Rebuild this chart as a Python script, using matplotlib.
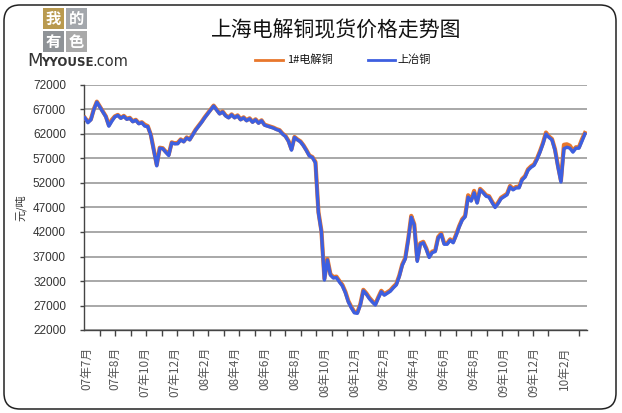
import numpy as np
import matplotlib
matplotlib.use("Agg")
import matplotlib.pyplot as plt
from matplotlib.patches import FancyBboxPatch, Rectangle
from matplotlib.lines import Line2D

plt.rcParams['font.family'] = ['Noto Sans CJK SC', 'DejaVu Sans']

# ---------------- data ----------------
title = "上海电解铜现货价格走势图"
series_names = ["1#电解铜", "上冶铜"]
y_label = "元/吨"
x_labels = ["07年7月", "07年8月", "07年10月", "07年12月", "08年2月", "08年4月",
            "08年6月", "08年8月", "08年10月", "08年12月", "09年2月", "09年4月",
            "09年6月", "09年8月", "09年10月", "09年12月", "10年2月"]
y_ticks = [22000, 27000, 32000, 37000, 42000, 47000, 52000, 57000, 62000, 67000, 72000]

# 上冶铜 (blue), roughly weekly samples
shangye = [65300, 64300, 64900, 67000, 68500, 67500, 66500, 65500, 63600, 64600,
           65500, 65800, 65200, 65600, 65000, 65200, 64500, 64800, 64100, 64300,
           63600, 63500, 61800, 58700, 55500, 59100, 59000, 58300, 57600, 60200,
           60000, 60000, 60800, 60400, 61200, 60800, 61800, 62800, 63600, 64400,
           65300, 66100, 66900, 67700, 66900, 66100, 66500, 65700, 65300, 65900,
           65300, 65700, 64900, 65300, 64700, 65100, 64400, 64900, 64200, 64700,
           63800, 63600, 63400, 63200, 62900, 62700, 62000, 61500, 60500, 58700,
           61300, 60800, 60400, 59600, 58600, 57500, 57200, 56100, 45900, 42000,
           32200, 36300, 33200, 32600, 32700, 31800, 31000, 29600, 27700, 26500,
           25500, 25400, 27100, 30000, 29300, 28400, 27700, 27100, 28500, 29800,
           29100, 29500, 29900, 30600, 31200, 32900, 35200, 36500, 40400, 45000,
           43400, 36000, 39500, 39800, 38500, 36800, 37800, 38000, 40800, 41500,
           39500, 39500, 40300, 39800, 41300, 43000, 44400, 45100, 49100, 48300,
           50000, 47900, 50600, 50000, 49300, 49100, 48000, 47000, 47800, 48800,
           49200, 49600, 51200, 50600, 51000, 51000, 52600, 53200, 54600, 55200,
           55600, 56800, 58300, 60000, 62000, 61300, 60800, 58700, 55300, 52200,
           59000, 59300, 59100, 58300, 59100, 59100, 60500, 62000]

# 1#电解铜 (orange)
dianjie = [65300, 64500, 65000, 67100, 68600, 67600, 66600, 65600, 63800, 64900,
           65600, 65900, 65300, 65700, 65100, 65300, 64600, 64900, 64200, 64400,
           63900, 63600, 61900, 58800, 55700, 59200, 59100, 58400, 57800, 60300,
           60100, 60200, 60900, 60500, 61300, 60900, 61900, 62900, 63700, 64500,
           65400, 66200, 67000, 67800, 67000, 66200, 66600, 65800, 65400, 66000,
           65400, 65800, 65000, 65400, 64800, 65200, 64500, 65000, 64300, 64800,
           63900, 63700, 63500, 63300, 63000, 62800, 62100, 61600, 60600, 58900,
           61400, 60900, 60500, 59700, 58700, 57600, 57300, 56300, 46100, 42200,
           32500, 36500, 33400, 32800, 32900, 32000, 31200, 29800, 27900, 26700,
           25700, 25600, 27300, 30200, 29500, 28600, 27900, 27300, 28700, 30000,
           29300, 29700, 30100, 30800, 31400, 33100, 35400, 36700, 40600, 45300,
           43600, 36300, 39700, 40000, 38700, 37000, 38000, 38200, 41000, 41700,
           39700, 39700, 40500, 40000, 41500, 43200, 44600, 45300, 49500, 48500,
           50400, 48100, 50800, 50200, 49500, 49300, 48200, 47200, 48000, 49000,
           49400, 49800, 51400, 50800, 51200, 51200, 52800, 53400, 54800, 55400,
           55800, 57000, 58500, 60200, 62300, 61500, 61000, 58900, 55500, 52500,
           59800, 59900, 59600, 58600, 59300, 59300, 60900, 62200]

# ---------------- figure ----------------
W, H = 622, 413
fig = plt.figure(figsize=(W / 100, H / 100), dpi=100)
fig.patch.set_facecolor("white")

# rounded border
border = FancyBboxPatch((0.04, 0.04), W / 100 - 0.1, H / 100 - 0.09,
                        boxstyle="round,pad=0,rounding_size=0.16",
                        transform=fig.dpi_scale_trans, fill=False,
                        edgecolor="#222222", linewidth=1.1)
fig.patches.append(border)

ax = fig.add_axes([84 / W, 1 - 330 / H, (587 - 84) / W, (330 - 85) / H])
ax.set_facecolor("white")

x = np.arange(len(shangye))
ax.plot(x, dianjie, color="#e8772c", linewidth=3.0, solid_joinstyle="round", zorder=3)
ax.plot(x, shangye, color="#3d5fe0", linewidth=2.4, solid_joinstyle="round", zorder=4)

ax.set_ylim(22000, 72000)
ax.set_xlim(-0.3, 167.7)
ax.set_yticks(y_ticks)
ax.set_yticklabels([str(v) for v in y_ticks], fontsize=8.5, color="#333333",
                   family=["Liberation Sans", "DejaVu Sans"])
ax.yaxis.grid(True, color="#a8a8a8", linewidth=1.4)
ax.set_axisbelow(True)

label_pos = [0.7] + [10 * i for i in range(1, len(x_labels))]
ax.set_xticks(label_pos)
ax.set_xticklabels(x_labels, rotation=90, fontsize=8.5, color="#555555")
ax.tick_params(axis="x", which="major", length=0, pad=12)
ax.set_xticks(np.arange(1, 33) * 15.5 / 3 - 1 / 6, minor=True)
ax.tick_params(axis="x", which="minor", length=4, width=1, color="#444444", direction="out")
ax.tick_params(axis="y", length=3, width=1, color="#444444", pad=10)

for s in ["top", "right"]:
    ax.spines[s].set_visible(False)
for s in ["left", "bottom"]:
    ax.spines[s].set_color("#444444")
    ax.spines[s].set_linewidth(1.0)

ax.set_ylabel(y_label, fontsize=8, color="#333333", labelpad=6)
ax.yaxis.set_label_coords(-0.115, 0.5)

# title
fig.text(336 / W, 1 - 30 / H, title, ha="center", va="center", fontsize=15, color="#111111")

# legend
ly = 1 - 60 / H
fig.add_artist(Line2D([255 / W, 283 / W], [ly, ly], color="#e8772c", linewidth=2))
fig.text(287 / W, ly, series_names[0], ha="left", va="center", fontsize=8, color="#111111")
fig.add_artist(Line2D([368 / W, 395 / W], [ly, ly], color="#3d5fe0", linewidth=2))
fig.text(397 / W, ly, series_names[1], ha="left", va="center", fontsize=8, color="#111111")

# logo
boxes = [("我", 43, 8, "#b99a4f"), ("的", 66, 8, "#a3a7ac"),
         ("有", 43, 31, "#8f9397"), ("色", 66, 31, "#a9a9a9")]
for ch, bx, by, col in boxes:
    fig.patches.append(Rectangle((bx / W, 1 - (by + 21) / H), 21 / W, 21 / H,
                                 transform=fig.transFigure, facecolor=col, edgecolor="none"))
    fig.text((bx + 10.5) / W, 1 - (by + 10.5) / H, ch, ha="center", va="center",
             fontsize=11, color="white", fontweight="bold")
fig.text(27 / W, 1 - 61 / H, "M", ha="left", va="center", fontsize=13,
         color="#333333", family=["DejaVu Sans"])
fig.text(41 / W, 1 - 62 / H, "YYOUSE", ha="left", va="center", fontsize=8.5,
         color="#333333", family=["DejaVu Sans"], fontweight="bold")
fig.text(92 / W, 1 - 61.5 / H, ".com", ha="left", va="center", fontsize=10.5,
         color="#333333", family=["DejaVu Sans"])

fig.savefig("out.png", dpi=100, facecolor="white")
